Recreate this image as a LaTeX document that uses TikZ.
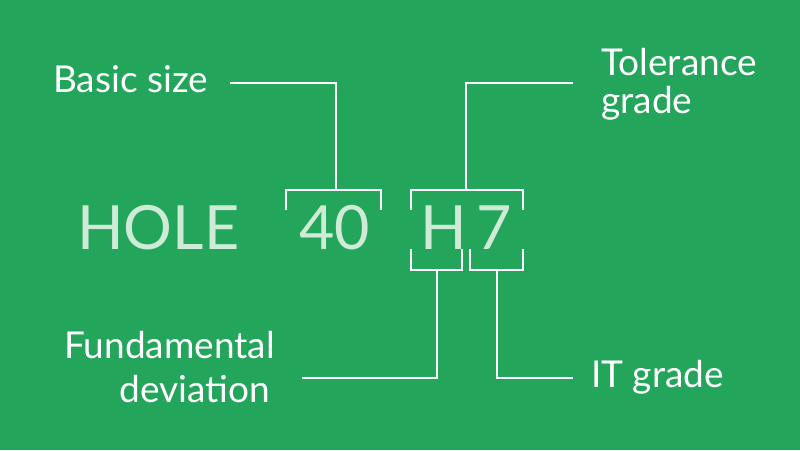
\documentclass[tikz,border=0pt]{standalone}
\usepackage{fontspec}
\setmainfont{Lato}
\definecolor{bg}{HTML}{23A55B}
\definecolor{pale}{HTML}{CDEBD6}
\begin{document}
\begin{tikzpicture}[x=1pt,y=-1pt,
  lbl/.style={text=white,font=\fontsize{37}{38}\selectfont,inner sep=0pt},
  big/.style={text=pale,font=\fontsize{61}{70}\selectfont,inner sep=0pt,anchor=base west},
  ln/.style={draw=white,line width=2.6pt}]
\fill[bg] (0,0) rectangle (800,450);
\useasboundingbox (0,0) rectangle (800,450);
% main code
\node[big] (hole) at (77,249) {HOLE};
\node[big] (forty) at (299,249) {40};
\node[big] (h) at (420,249) {H};
\node[big] (seven) at (476,249) {7};
% labels
\node[lbl,anchor=base west] (basic) at (53,92) {Basic size};
\node[lbl,anchor=base west,align=left] (tol) at (601,113) {Tolerance\\grade};
\node[lbl,anchor=base east] (fund) at (275,358) {Fundamental};
\node[lbl,anchor=base east] (dev) at (270,402) {deviation};
\node[lbl,anchor=base west] (it) at (591,387) {IT grade};
% bracket coordinates
\coordinate (b40l) at (286,210);
\coordinate (b40r) at (381,210);
\coordinate (b40m) at (336,190);
\coordinate (bhtl) at (411,210);
\coordinate (bhtr) at (523,210);
\coordinate (bhtm) at (466,190);
\coordinate (bhl) at (411,249);
\coordinate (bhr) at (462,249);
\coordinate (bhm) at (437,270);
\coordinate (b7l) at (470,249);
\coordinate (b7r) at (523,249);
\coordinate (b7m) at (497,270);
\coordinate (basicend) at (230,83);
\coordinate (tolend) at (573,83);
\coordinate (fundend) at (302,378);
\coordinate (itend) at (573,378);
% brackets
\draw[ln] (b40l) |- (b40m) -| (b40r);
\draw[ln] (bhtl) |- (bhtm) -| (bhtr);
\draw[ln] (bhl) |- (bhm) -| (bhr);
\draw[ln] (b7l) |- (b7m) -| (b7r);
% leaders
\draw[ln] (basicend) -| (b40m);
\draw[ln] (tolend) -| (bhtm);
\draw[ln] (fundend) -| (bhm);
\draw[ln] (itend) -| (b7m);
\end{tikzpicture}
\end{document}
